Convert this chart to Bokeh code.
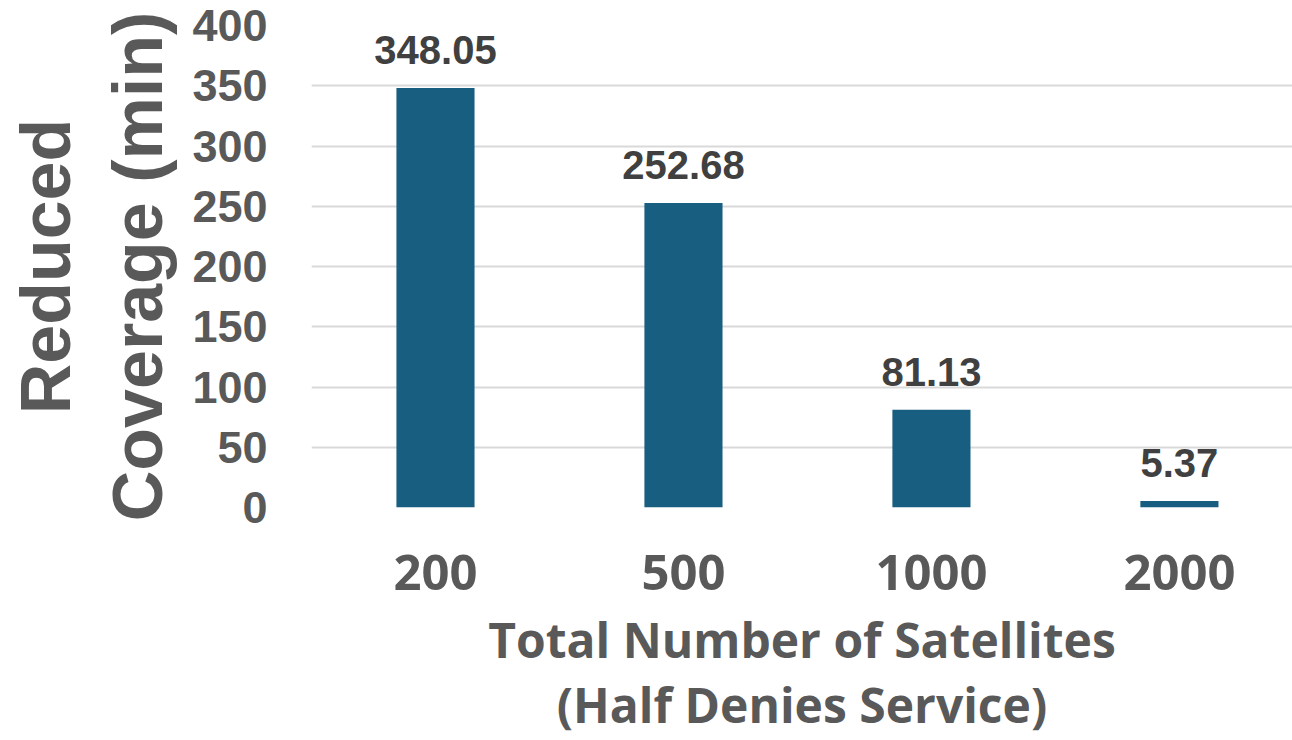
from bokeh.plotting import figure
from bokeh.models import ColumnDataSource, FixedTicker, LabelSet, Range1d
from bokeh.core.properties import value
from bokeh.embed import file_html
from bokeh.resources import INLINE

categories = ["200", "500", "1000", "2000"]
values = [348.05, 252.68, 81.13, 5.37]
y_ticks = [0, 50, 100, 150, 200, 250, 300, 350, 400]

positions = list(range(len(categories)))
labels = [f"{v:.2f}" for v in values]

source = ColumnDataSource(dict(x=positions, top=values, label=labels))

p = figure(width=1292, height=740, output_backend="svg", toolbar_location=None,
           x_range=Range1d(-0.5, 3.456), y_range=Range1d(0, 400),
           min_border_left=311, min_border_right=0, min_border_top=25,
           min_border_bottom=233)
p.outline_line_color = None
p.background_fill_color = "white"
p.border_fill_color = "white"

p.vbar(x="x", top="top", width=0.315, bottom=0, source=source,
       fill_color="#185e80", line_color=None)

p.add_layout(LabelSet(x="x", y="top", text="label", source=source,
                      y_offset=24, text_align="center", text_baseline="alphabetic",
                      text_font=value("Liberation Sans"), text_font_style="bold",
                      text_font_size="40px", text_color="#404040"))

# y axis
p.yaxis.ticker = FixedTicker(ticks=y_ticks)
p.yaxis.axis_line_color = None
p.yaxis.major_tick_line_color = None
p.yaxis.minor_tick_line_color = None
p.yaxis.major_tick_out = 0
p.yaxis.major_tick_in = 0
p.yaxis.major_label_standoff = 44
p.yaxis.major_label_text_font = "Liberation Sans"
p.yaxis.major_label_text_font_style = "bold"
p.yaxis.major_label_text_font_size = "45px"
p.yaxis.major_label_text_color = "#595959"
p.yaxis.axis_label = "Reduced\nCoverage (min)"
p.yaxis.axis_label_text_font = "Liberation Sans"
p.yaxis.axis_label_text_font_style = "bold"
p.yaxis.axis_label_text_font_size = "70px"
p.yaxis.axis_label_text_color = "#595959"
p.yaxis.axis_label_standoff = 12
p.yaxis.axis_label_text_line_height = 1.19

# x axis
p.xaxis.ticker = FixedTicker(ticks=positions)
p.xaxis.major_label_overrides = {i: c for i, c in zip(positions, categories)}
p.xaxis.axis_line_color = None
p.xaxis.major_tick_line_color = None
p.xaxis.minor_tick_line_color = None
p.xaxis.major_tick_out = 0
p.xaxis.major_tick_in = 0
p.xaxis.major_label_standoff = 47
p.xaxis.major_label_text_font = "Open Sans"
p.xaxis.major_label_text_font_style = "bold"
p.xaxis.major_label_text_font_size = "49px"
p.xaxis.major_label_text_color = "#595959"
p.xaxis.axis_label = "Total Number of Satellites\n(Half Denies Service)"
p.xaxis.axis_label_text_font = "Open Sans"
p.xaxis.axis_label_text_font_style = "bold"
p.xaxis.axis_label_text_font_size = "48px"
p.xaxis.axis_label_text_color = "#595959"
p.xaxis.axis_label_standoff = 14
p.xaxis.axis_label_text_line_height = 1.0

p.xgrid.grid_line_color = None
p.ygrid.ticker = FixedTicker(ticks=y_ticks)
p.ygrid.grid_line_color = "#d9d9d9"
p.ygrid.grid_line_width = 2

open("out.html", "w").write(file_html(p, INLINE))
